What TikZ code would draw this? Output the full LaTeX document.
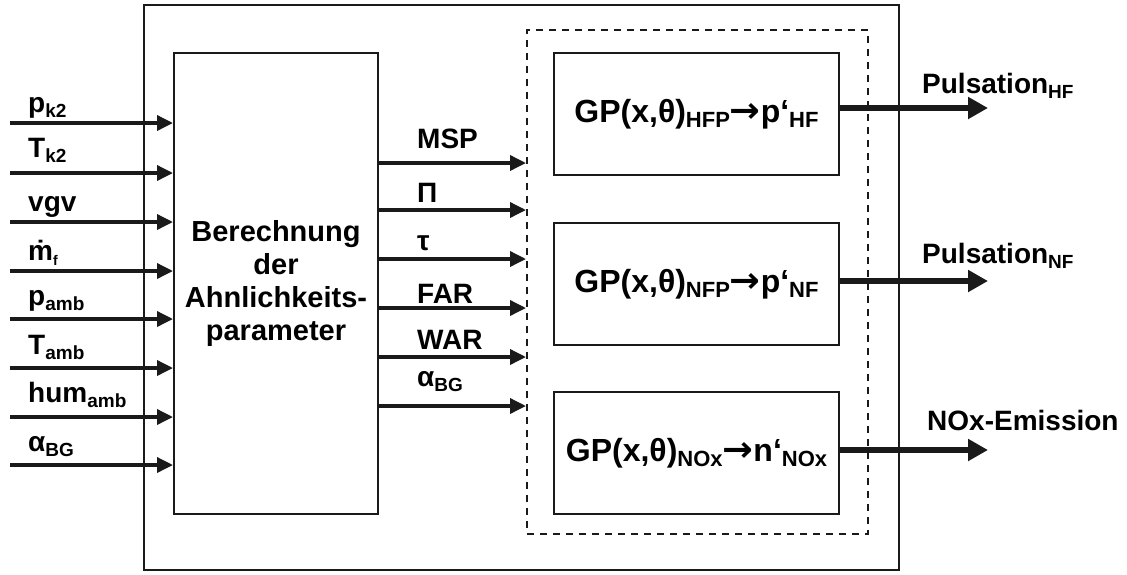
\documentclass[tikz,border=0pt]{standalone}
\usepackage{fontspec}
\setmainfont{Liberation Sans}
\newfontfamily\arrowfont{DejaVu Sans}
\usetikzlibrary{arrows.meta}
\definecolor{lc}{HTML}{1A1A1A}
% lowered subscript in a smaller size
\newcommand\sbs[2][19]{\raisebox{-5pt}{\fontsize{#1}{#1}\selectfont #2}}
% heavy arrow between model and predicted quantity
\newcommand\toarr{{\arrowfont\bfseries\scalebox{1.15}[1.1]{→}}}
\newcommand\lbfont{\fontsize{28}{28}\selectfont\bfseries}
\newcommand\gpfont{\fontsize{32}{32}\selectfont\bfseries}
\begin{document}
\begin{tikzpicture}[x=1pt,y=-1pt,
  blk/.style={draw=lc, line width=2pt, inner sep=0pt},
  grp/.style={draw=lc, line width=2pt, inner sep=0pt, dash pattern=on 7pt off 6pt},
  lbl/.style={anchor=base west, inner sep=0pt, font=\lbfont},
  inarr/.style={draw=lc, line width=3.5pt, -{Triangle[length=16pt,width=15pt]}},
  outarr/.style={draw=lc, line width=6.5pt, -{Triangle[length=20pt,width=21pt]}},
]
\useasboundingbox (0,0) rectangle (1127,574);

% frames
\node[blk, minimum width=755pt, minimum height=565pt] (outer) at (521.5,287.5) {};
\node[blk, minimum width=204pt, minimum height=461pt, align=center,
      font=\fontsize{29}{33}\selectfont\bfseries] (calc) at (276,283.5)
      {Berechnung\\der\\Ahnlichkeits-\\parameter};
\node[grp, minimum width=341pt, minimum height=504pt] (group) at (697.5,282) {};
\node[blk, minimum width=285pt, minimum height=122pt, font=\gpfont] (hf) at (696.5,114)
      {GP(x,θ)\sbs[22]{HFP}\toarr p‘\sbs[22]{HF}};
\node[blk, minimum width=285pt, minimum height=122pt, font=\gpfont] (nf) at (696.5,284)
      {GP(x,θ)\sbs[22]{NFP}\toarr p‘\sbs[22]{NF}};
\node[blk, minimum width=285pt, minimum height=122pt, font=\gpfont] (nox) at (696.5,453)
      {GP(x,θ)\sbs[22]{NOx}\toarr n‘\sbs[22]{NOx}};

% inputs
\foreach \n/\y in {1/123,2/173,3/222,4/271,5/319,6/368,7/417,8/465}
  \coordinate (i\n) at (10,\y);
\foreach \n in {1,...,8}
  \draw[inarr] (i\n) -- (calc.west |- i\n);
\node[lbl] (li1) at (28,112) {p\sbs{k2}};
\node[lbl] (li2) at (28,157) {T\sbs{k2}};
\node[lbl] (li3) at (28,211) {vgv};
\node[lbl] (li4) at (28,260) {ṁ\sbs[14]{f}};
\node[lbl] (li5) at (28,305) {p\sbs{amb}};
\node[lbl] (li6) at (28,354) {T\sbs{amb}};
\node[lbl] (li7) at (28,402) {hum\sbs{amb}};
\node[lbl] (li8) at (28,451) {α\sbs{BG}};

% similarity parameters
\foreach \n/\y in {1/163,2/210,3/259,4/308,5/357,6/406}
  \coordinate (m\n) at (calc.east |- 0,\y);
\foreach \n in {1,...,6}
  \draw[inarr] (m\n) -- (group.west |- m\n);
\node[lbl] (lm1) at (417,148) {MSP};
\node[lbl] (lm2) at (417,202) {Π};
\node[lbl] (lm3) at (417,250) {τ};
\node[lbl] (lm4) at (417,303) {FAR};
\node[lbl] (lm5) at (417,349) {WAR};
\node[lbl] (lm6) at (417,386) {α\sbs{BG}};

% outputs
\coordinate (o1) at (988,108);
\coordinate (o2) at (988,281);
\coordinate (o3) at (988,450);
\draw[outarr] (hf.east |- o1) -- (o1);
\draw[outarr] (nf.east |- o2) -- (o2);
\draw[outarr] (nox.east |- o3) -- (o3);
\node[lbl] (lo1) at (922,93) {Pulsation\sbs{HF}};
\node[lbl] (lo2) at (922,263) {Pulsation\sbs{NF}};
\node[lbl] (lo3) at (927,430) {NOx-Emission};
\end{tikzpicture}
\end{document}
